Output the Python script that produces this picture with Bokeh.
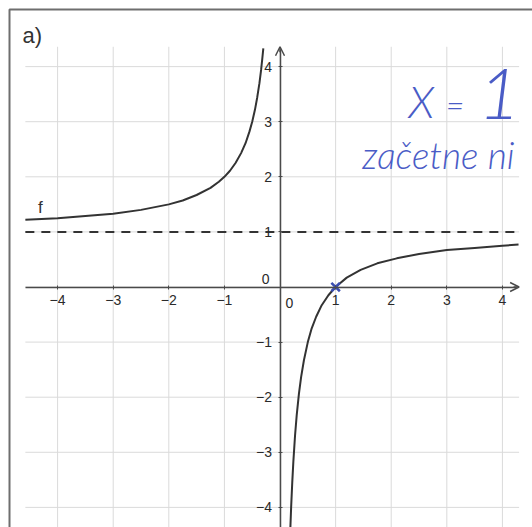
from bokeh.plotting import figure
from bokeh.models import Range1d, LinearAxis, FixedTicker, Arrow, OpenHead
from bokeh.core.properties import value
from bokeh.embed import file_html
from bokeh.resources import INLINE

# Tick positions
x_ticks = [-4, -3, -2, -1, 1, 2, 3, 4]
y_ticks = [-4, -3, -2, -1, 1, 2, 3, 4]
grid_x = [-4, -3, -2, -1, 0, 1, 2, 3, 4]
grid_y = [-4, -3, -2, -1, 0, 1, 2, 3, 4]

# Graph of f, left branch (x < 0)
left_x = [-4.58, -4.0, -3.5, -3.0, -2.5, -2.0, -1.75, -1.5, -1.25, -1.1, -1.0, -0.9,
          -0.8, -0.7, -0.62, -0.55, -0.5, -0.45, -0.41, -0.37, -0.34, -0.32, -0.30]
left_y = [1.22, 1.25, 1.29, 1.33, 1.40, 1.50, 1.57, 1.67, 1.80, 1.91, 2.00, 2.11,
          2.25, 2.43, 2.61, 2.82, 3.00, 3.22, 3.44, 3.70, 3.94, 4.13, 4.33]

# Graph of f, right branch (x > 0)
right_x = [0.186, 0.20, 0.22, 0.24, 0.27, 0.30, 0.34, 0.38, 0.43, 0.5, 0.57, 0.65,
           0.75, 0.87, 1.0, 1.2, 1.45, 1.75, 2.1, 2.5, 3.0, 3.5, 4.0, 4.29]
right_y = [-4.38, -4.00, -3.55, -3.17, -2.70, -2.33, -1.94, -1.63, -1.33, -1.00, -0.75, -0.54,
           -0.33, -0.15, 0.00, 0.17, 0.31, 0.43, 0.52, 0.60, 0.67, 0.71, 0.75, 0.77]

# Horizontal asymptote and the zero of f
asymptote_y = 1
zero_x = [1]
zero_y = [0]

# Visible window of the coordinate system
VX0, VX1 = -4.58, 4.30
VY0, VY1 = -4.40, 4.36

W, H = 532, 527
p = figure(width=W, height=H, output_backend="svg", toolbar_location=None,
           x_range=Range1d(-5.027, 4.541), y_range=Range1d(-4.365, 5.200),
           x_axis_type=None, y_axis_type=None, min_border=0,
           background_fill_color="white", border_fill_color="white")
p.outline_line_color = None

# Page border (paper edge)
p.line(x=[-4.865, -4.865, 4.541], y=[-4.365, 5.036, 5.036], line_color="#6e6e6e", line_width=2)

# Grid
p.segment(x0=grid_x, y0=[VY0] * len(grid_x), x1=grid_x, y1=[VY1] * len(grid_x),
          line_color="#dadada", line_width=1)
p.segment(x0=[VX0] * len(grid_y), y0=grid_y, x1=[VX1] * len(grid_y), y1=grid_y,
          line_color="#dadada", line_width=1)

tick_font = "Liberation Sans"

# Axes through the origin
xaxis = LinearAxis(fixed_location=0, bounds=(VX0, VX1 - 0.05),
                   ticker=FixedTicker(ticks=x_ticks))
yaxis = LinearAxis(fixed_location=0, bounds=(VY0, VY1 - 0.05),
                   ticker=FixedTicker(ticks=y_ticks))
for ax in (xaxis, yaxis):
    ax.axis_line_color = "#4a4a4a"
    ax.axis_line_width = 1.5
    ax.major_tick_line_color = "#4a4a4a"
    ax.major_tick_in = 2
    ax.major_tick_out = 2
    ax.minor_tick_line_color = None
    ax.major_label_text_font = tick_font
    ax.major_label_text_font_size = "14px"
    ax.major_label_text_color = "#2a2a2a"
    ax.major_label_standoff = 6
p.add_layout(xaxis, "below")
p.add_layout(yaxis, "left")

# Axis arrow heads
p.add_layout(Arrow(end=OpenHead(size=9, line_color="#4a4a4a", line_width=1.5),
                   x_start=VX1 - 0.1, y_start=0, x_end=VX1, y_end=0,
                   line_color="#4a4a4a", line_width=1.5))
p.add_layout(Arrow(end=OpenHead(size=9, line_color="#4a4a4a", line_width=1.5),
                   x_start=0, y_start=VY1 - 0.1, x_end=0, y_end=VY1,
                   line_color="#4a4a4a", line_width=1.5))

# Origin labels
p.text(x=[-0.26], y=[0.15], text=["0"], text_font=value(tick_font), text_font_size="14px",
       text_color="#2a2a2a", text_align="center", text_baseline="middle")
p.text(x=[0.17], y=[-0.29], text=["0"], text_font=value(tick_font), text_font_size="14px",
       text_color="#2a2a2a", text_align="center", text_baseline="middle")

# Asymptote y = 1
p.line(x=[VX0, VX1 - 0.05], y=[asymptote_y, asymptote_y], line_color="#333333",
       line_width=2, line_dash="9 7")

# Graph of f
p.line(x=left_x, y=left_y, line_color="#333333", line_width=2)
p.line(x=right_x, y=right_y, line_color="#333333", line_width=2)
p.text(x=[-4.31], y=[1.44], text=["f"], text_font=value(tick_font), text_font_size="17px",
       text_color="#333333", text_align="center", text_baseline="middle")

# Zero of f
p.scatter(x=zero_x, y=zero_y, marker="x", size=12, line_color="#3a4db0", line_width=2.5)

# Part label
p.text(x=[-4.63], y=[4.56], text=["a)"], text_font=value(tick_font), text_font_size="22px",
       text_color="#333333", text_align="left", text_baseline="middle")

# Handwritten note
ink = "#4a5cc6"
hand = value("Lato Light, Lato, Open Sans")
p.text(x=[2.31], y=[3.385], text=["X"], text_font=hand, text_font_size="44px",
       text_font_style="italic", text_color=ink, text_align="left", text_baseline="middle")
p.text(x=[2.98], y=[3.31], text=["="], text_font=hand, text_font_size="32px",
       text_font_style="italic", text_color=ink, text_align="left", text_baseline="middle")
p.text(x=[3.57], y=[3.50], text=["1"], text_font=hand, text_font_size="72px",
       text_font_style="italic", text_color=ink, text_align="left", text_baseline="middle")
p.text(x=[1.48], y=[2.40], text=["začetne ni"], text_font=hand, text_font_size="37px",
       text_font_style="italic", text_color=ink, text_align="left", text_baseline="middle")

open("out.html", "w").write(file_html(p, INLINE))
